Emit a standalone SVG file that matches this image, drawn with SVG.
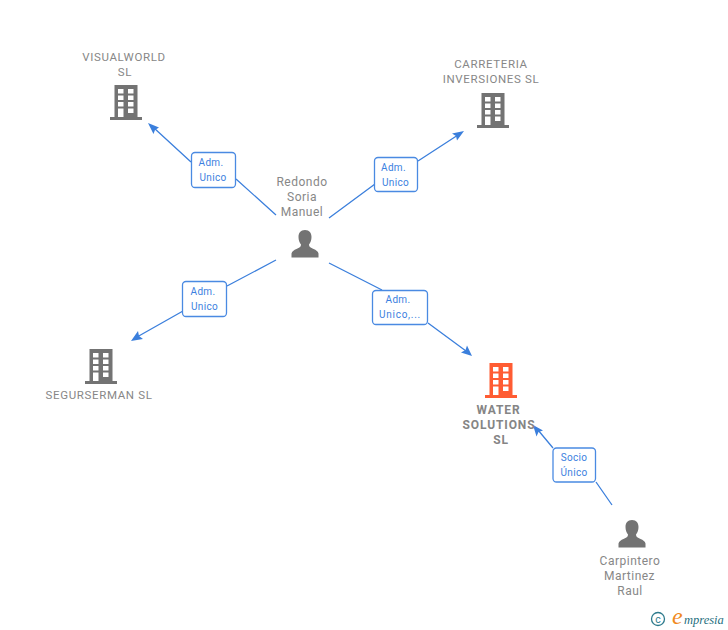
<svg xmlns="http://www.w3.org/2000/svg" width="728" height="630" viewBox="0 0 728 630">
<style>
text{font-family:Roboto,"Liberation Sans",sans-serif}
.n{font-size:11.500px;fill:#878787;text-anchor:middle;letter-spacing:.65px}
.p{font-size:12px;fill:#878787;text-anchor:middle;letter-spacing:.5px}
.b{font-size:12px;font-weight:700;fill:#858585;text-anchor:middle;letter-spacing:.9px}
.l{font-size:10px;fill:#3b7fe0;text-anchor:middle;letter-spacing:.3px}
.c{fill:none;stroke:#3b7fdc;stroke-width:1.3}
.h{fill:#3b7fdc}
.box{fill:#fff;stroke:#4a8ae2;stroke-width:1.300}
</style>
<defs>
<path id="bld" fill-rule="evenodd" d="M4.500 0H27.500V32H32V35H0V32H4.500ZM8 4V8.500H13.500V4ZM18 4V8.500H23.500V4ZM8 10.500V15H13.500V10.500ZM18 10.500V15H23.500V10.500ZM8 17V21.500H13.500V17ZM18 17V21.500H23.500V17ZM8 23.500V32H13.500V23.500ZM18 23.500V28H23.500V23.500Z"/>
<path id="per" fill="#737373" d="M13.500 0C9 0 7 3 7 7C7 10 8 12.500 9.500 14.500C9.500 16.500 8.500 17.500 5.500 18.800C2 20.200 .5 21.500 0 23.500V27.500H27V23.500C26.500 21.500 25 20.200 21.500 18.800C18.500 17.500 17.500 16.500 17.500 14.500C19 12.500 20 10 20 7C20 3 18 0 13.500 0Z"/>
</defs>
<g id="connectors">
<path class="c" d="M276 215L236 179M191 162L154 128"/>
<path class="h" d="M148 123L159 127.500L155 130L153.500 134Z"/>
<path class="c" d="M329 218L375 184M418 161L458 135"/>
<path class="h" d="M464 131L457 140.500L456 136L452 133.500Z"/>
<path class="c" d="M276 260L227 286M183 311L137 337"/>
<path class="h" d="M131 341L138 331L139 336L143 339Z"/>
<path class="c" d="M329 263L382 290M428 323L466 351"/>
<path class="h" d="M472 356L461 352.500L465.500 350L467 345.500Z"/>
<path class="c" d="M612 505L596 482M553 448L538 430"/>
<path class="h" d="M533 425L543 430.500L538.500 432L536.500 436.500Z"/>
</g>
<g id="e1"><rect class="box" x="191.500" y="152.500" width="44" height="35" rx="3.500"/><text class="l" x="211" y="166">Adm.</text><text class="l" x="213" y="181">Unico</text></g>
<g id="e2"><rect class="box" x="374.500" y="157.500" width="43" height="34" rx="3.500"/><text class="l" x="393.500" y="171">Adm.</text><text class="l" x="395.500" y="186">Unico</text></g>
<g id="e3"><rect class="box" x="182.500" y="281.500" width="44" height="35" rx="3.500"/><text class="l" x="203" y="295">Adm.</text><text class="l" x="204.500" y="310">Unico</text></g>
<g id="e4"><rect class="box" x="372.500" y="290.500" width="55" height="34" rx="3.500"/><text class="l" x="398" y="303">Adm.</text><text class="l" x="400" y="318" style="letter-spacing:.75px">Unico,...</text></g>
<g id="e5"><rect class="box" x="553" y="448" width="42.500" height="34" rx="3.500"/><text class="l" x="574" y="461">Socio</text><text class="l" x="574" y="476">Único</text></g>
<g id="visualworld"><text class="n" x="124" y="61">VISUALWORLD</text><text class="n" x="125" y="76">SL</text><use href="#bld" x="110" y="85" fill="#737373"/></g>
<g id="carreteria"><text class="n" x="491" y="68">CARRETERIA</text><text class="n" x="491" y="83">INVERSIONES SL</text><use href="#bld" x="477" y="93" fill="#737373"/></g>
<g id="redondo"><text class="p" x="302" y="186">Redondo</text><text class="p" x="302" y="201">Soria</text><text class="p" x="302" y="216">Manuel</text><use href="#per" x="291.500" y="230"/></g>
<g id="segurserman"><use href="#bld" x="85" y="349" fill="#737373"/><text class="n" x="99" y="399">SEGURSERMAN SL</text></g>
<g id="water"><use href="#bld" x="485" y="363" fill="#ff5c33"/><text class="b" x="498.500" y="413.500">WATER</text><text class="b" x="499" y="428.500">SOLUTIONS</text><text class="b" x="501" y="443.500">SL</text></g>
<g id="carpintero"><use href="#per" x="618.500" y="520"/><text class="p" x="630" y="565">Carpintero</text><text class="p" x="629.500" y="580">Martinez</text><text class="p" x="630" y="595">Raul</text></g>
<g id="logo"><circle cx="658" cy="619" r="6.500" fill="none" stroke="#2d7a8c" stroke-width="1.300"/><text x="658" y="622.500" font-size="10.500" fill="#2d7a8c" text-anchor="middle">c</text><text x="672" y="624" style="font-family:'Liberation Serif',serif" font-size="24" font-style="italic" fill="#f08a1d">e</text><text x="684" y="624" style="font-family:'Liberation Serif',serif" font-size="12.500" font-style="italic" fill="#1f6f80">mpresia</text></g>
</svg>
